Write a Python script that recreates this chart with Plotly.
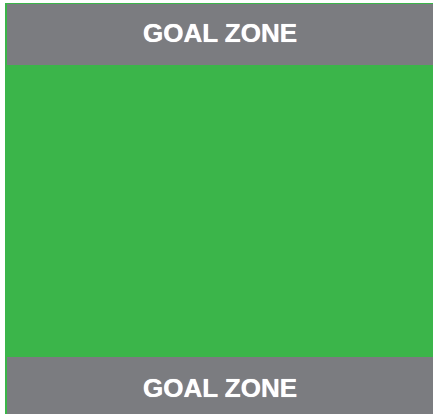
import plotly.graph_objects as go

# Field layout (units: field coordinates, y increasing downward)
field_x = [5, 433]
field_y = [3, 414]
zone_labels = ["GOAL ZONE", "GOAL ZONE"]
zone_x0 = [7, 7]
zone_x1 = [433, 433]
zone_y0 = [4, 357]
zone_y1 = [65, 414]

FIELD_GREEN = "#3bb54a"
ZONE_GRAY = "#7b7c80"

fig = go.Figure()

shapes = [dict(type="rect", xref="x", yref="y",
               x0=field_x[0], x1=field_x[1], y0=field_y[0], y1=field_y[1],
               fillcolor=FIELD_GREEN, line=dict(width=0), layer="below")]
annotations = []
for lab, a, b, c, d in zip(zone_labels, zone_x0, zone_x1, zone_y0, zone_y1):
    shapes.append(dict(type="rect", xref="x", yref="y", x0=a, x1=b, y0=c, y1=d,
                       fillcolor=ZONE_GRAY, line=dict(width=0), layer="below"))
    annotations.append(dict(x=(a + b) / 2 - 0.5, y=(c + d) / 2 - 1.5 if c < 100 else (c + d) / 2 + 2,
                            xref="x", yref="y",
                            text=lab, showarrow=False,
                            font=dict(family="Liberation Sans", size=26,
                                      color="white", weight="bold",
                                      shadow="0px 0px 0.7px white"),
                            xanchor="center", yanchor="middle"))

fig.add_trace(go.Scatter(x=[], y=[]))
fig.update_layout(
    width=433, height=414,
    margin=dict(l=0, r=0, t=0, b=0),
    paper_bgcolor="white", plot_bgcolor="white",
    showlegend=False,
    shapes=shapes, annotations=annotations,
    xaxis=dict(range=[0, 433], visible=False, fixedrange=True),
    yaxis=dict(range=[414, 0], visible=False, fixedrange=True),
)
fig.write_html("out.html", config={"displayModeBar": False},
               post_script="document.body.style.margin='0';document.body.style.overflow='hidden';")
